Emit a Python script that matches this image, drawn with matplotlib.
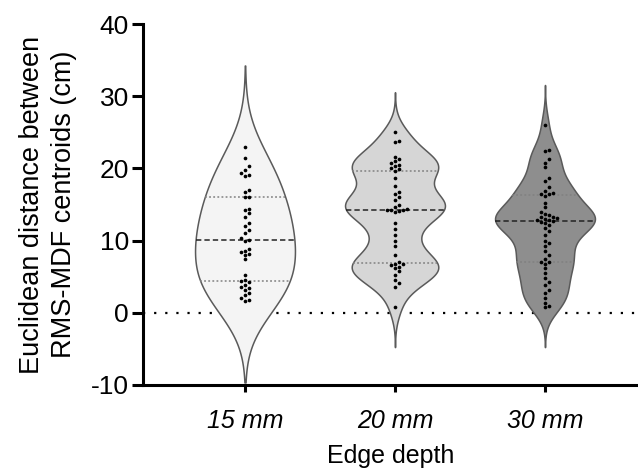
import numpy as np
import matplotlib.pyplot as plt

plt.rcParams['font.family'] = ['Liberation Sans', 'DejaVu Sans']
plt.rcParams['axes.unicode_minus'] = False

groups = ['15 mm', '20 mm', '30 mm']

d15 = [23.0, 21.4, 20.3, 19.8, 19.3, 19.1, 18.9, 17.0, 16.7, 16.1, 16.0,
       14.4, 14.2, 13.8, 13.3, 12.4, 12.0, 11.5, 11.0,
       10.3, 10.1, 10.0,
       8.9, 8.6, 8.4, 8.2, 8.0, 7.4, 5.3, 4.6, 4.4, 4.2, 3.9, 3.6, 3.5,
       3.1, 2.8, 2.5, 2.1, 1.8, 1.6]
d20 = [25.0, 23.8, 23.6, 21.6, 21.3, 21.0, 20.8, 20.5, 20.3, 20.0, 19.9,
       19.6, 18.7, 17.6, 16.8, 16.4, 16.1, 15.6, 15.0, 14.7, 14.4, 14.3,
       14.3, 14.2, 14.1, 13.9,
       12.4, 11.6, 10.8, 10.0, 9.2, 8.0, 7.0,
       6.8, 6.7, 6.6, 6.4, 6.2, 5.8, 5.3, 4.6, 4.1, 3.6, 0.8]
d30 = [26.0, 22.6, 22.4, 21.3, 20.8, 20.2, 18.7, 18.2, 17.4, 16.9, 16.6,
       16.5, 16.4,
       16.2, 15.2, 14.6, 14.0, 13.7, 13.5, 13.3, 13.2, 13.1, 13.0, 12.9,
       12.8, 12.7,
       12.6, 12.4, 12.2, 11.8, 11.3, 10.8, 10.0, 9.6, 9.2, 8.6, 8.0, 7.5,
       7.1,
       7.0, 6.8, 6.2, 5.5, 4.8, 4.2, 3.8, 3.2, 2.7, 2.1, 1.4, 0.9, 0.8]
data = [d15, d20, d30]

# kernel bandwidth (cm), tail cut (in bandwidths) and fill colour per violin
bws = [4.5, 1.85, 1.85]
cuts = [2.5, 3.0, 3.0]
fills = ['#f4f4f4', '#d6d6d6', '#8e8e8e']

fig = plt.figure(figsize=(6.38, 4.76), dpi=100)
ax = fig.add_axes([143/638, 91/476, 495/638, 361/476])
ax.set_xlim(-0.68, 2.62)
ax.set_ylim(-10, 40)

px_x = 150.0   # pixels per category unit
px_y = 7.22    # pixels per cm
half_w = 0.333

ax.axhline(0, color='black', lw=1.6, dashes=(1, 4), zorder=1)


def kde(vals, grid, bw):
    v = np.asarray(vals)[:, None]
    return np.exp(-0.5*((grid[None, :] - v)/bw)**2).sum(axis=0)


def swarm(vals, d):
    placed = []
    offs = np.zeros(len(vals))
    order = np.argsort(vals)
    for i in order:
        y = vals[i]*px_y
        for k in range(40):
            cand = ((k+1)//2)*d*(1 if k % 2 else -1)
            ok = True
            for (px, py) in placed:
                if (px-cand)**2 + (py-y)**2 < d*d:
                    ok = False
                    break
            if ok:
                break
        placed.append((cand, y))
        offs[i] = cand/px_x
    return offs


for pos, (vals, bw, cut, fc) in enumerate(zip(data, bws, cuts, fills)):
    vals = np.array(vals)
    grid = np.linspace(vals.min()-cut*bw, vals.max()+cut*bw, 400)
    dens = kde(vals, grid, bw)
    w = dens/dens.max()*half_w
    ax.fill_betweenx(grid, pos-w, pos+w, facecolor=fc, edgecolor='#5a5a5a',
                     lw=1.1, zorder=2)
    q1, med, q3 = np.percentile(vals, [25, 50, 75])
    for q, ls, col in [(q1, (0, (1.2, 1.5)), '#808080'),
                       (q3, (0, (1.2, 1.5)), '#808080'),
                       (med, (0, (3.5, 2)), '#222222')]:
        wq = np.interp(q, grid, w)
        ax.plot([pos-wq, pos+wq], [q, q], color=col, lw=1.1, linestyle=ls,
                zorder=3)
    xo = swarm(vals, 4.0)
    ax.scatter(pos+xo, vals, s=7, color='black', lw=0, zorder=4)

for side in ['top', 'right']:
    ax.spines[side].set_visible(False)
for side in ['left', 'bottom']:
    ax.spines[side].set_linewidth(2.2)

ax.set_yticks([-10, 0, 10, 20, 30, 40])
ax.set_xticks([0, 1, 2])
ax.set_xticklabels(groups, style='italic', fontsize=18)
ax.tick_params(axis='y', length=8, width=2.2, labelsize=19, pad=2)
ax.tick_params(axis='x', length=5, width=2.2, pad=12)

ax.set_ylabel('Euclidean distance between\nRMS-MDF centroids (cm)',
              fontsize=19.5, linespacing=1.3, labelpad=10)
ax.set_xlabel('Edge depth', fontsize=18, labelpad=8)

fig.savefig('out.png', dpi=100)
